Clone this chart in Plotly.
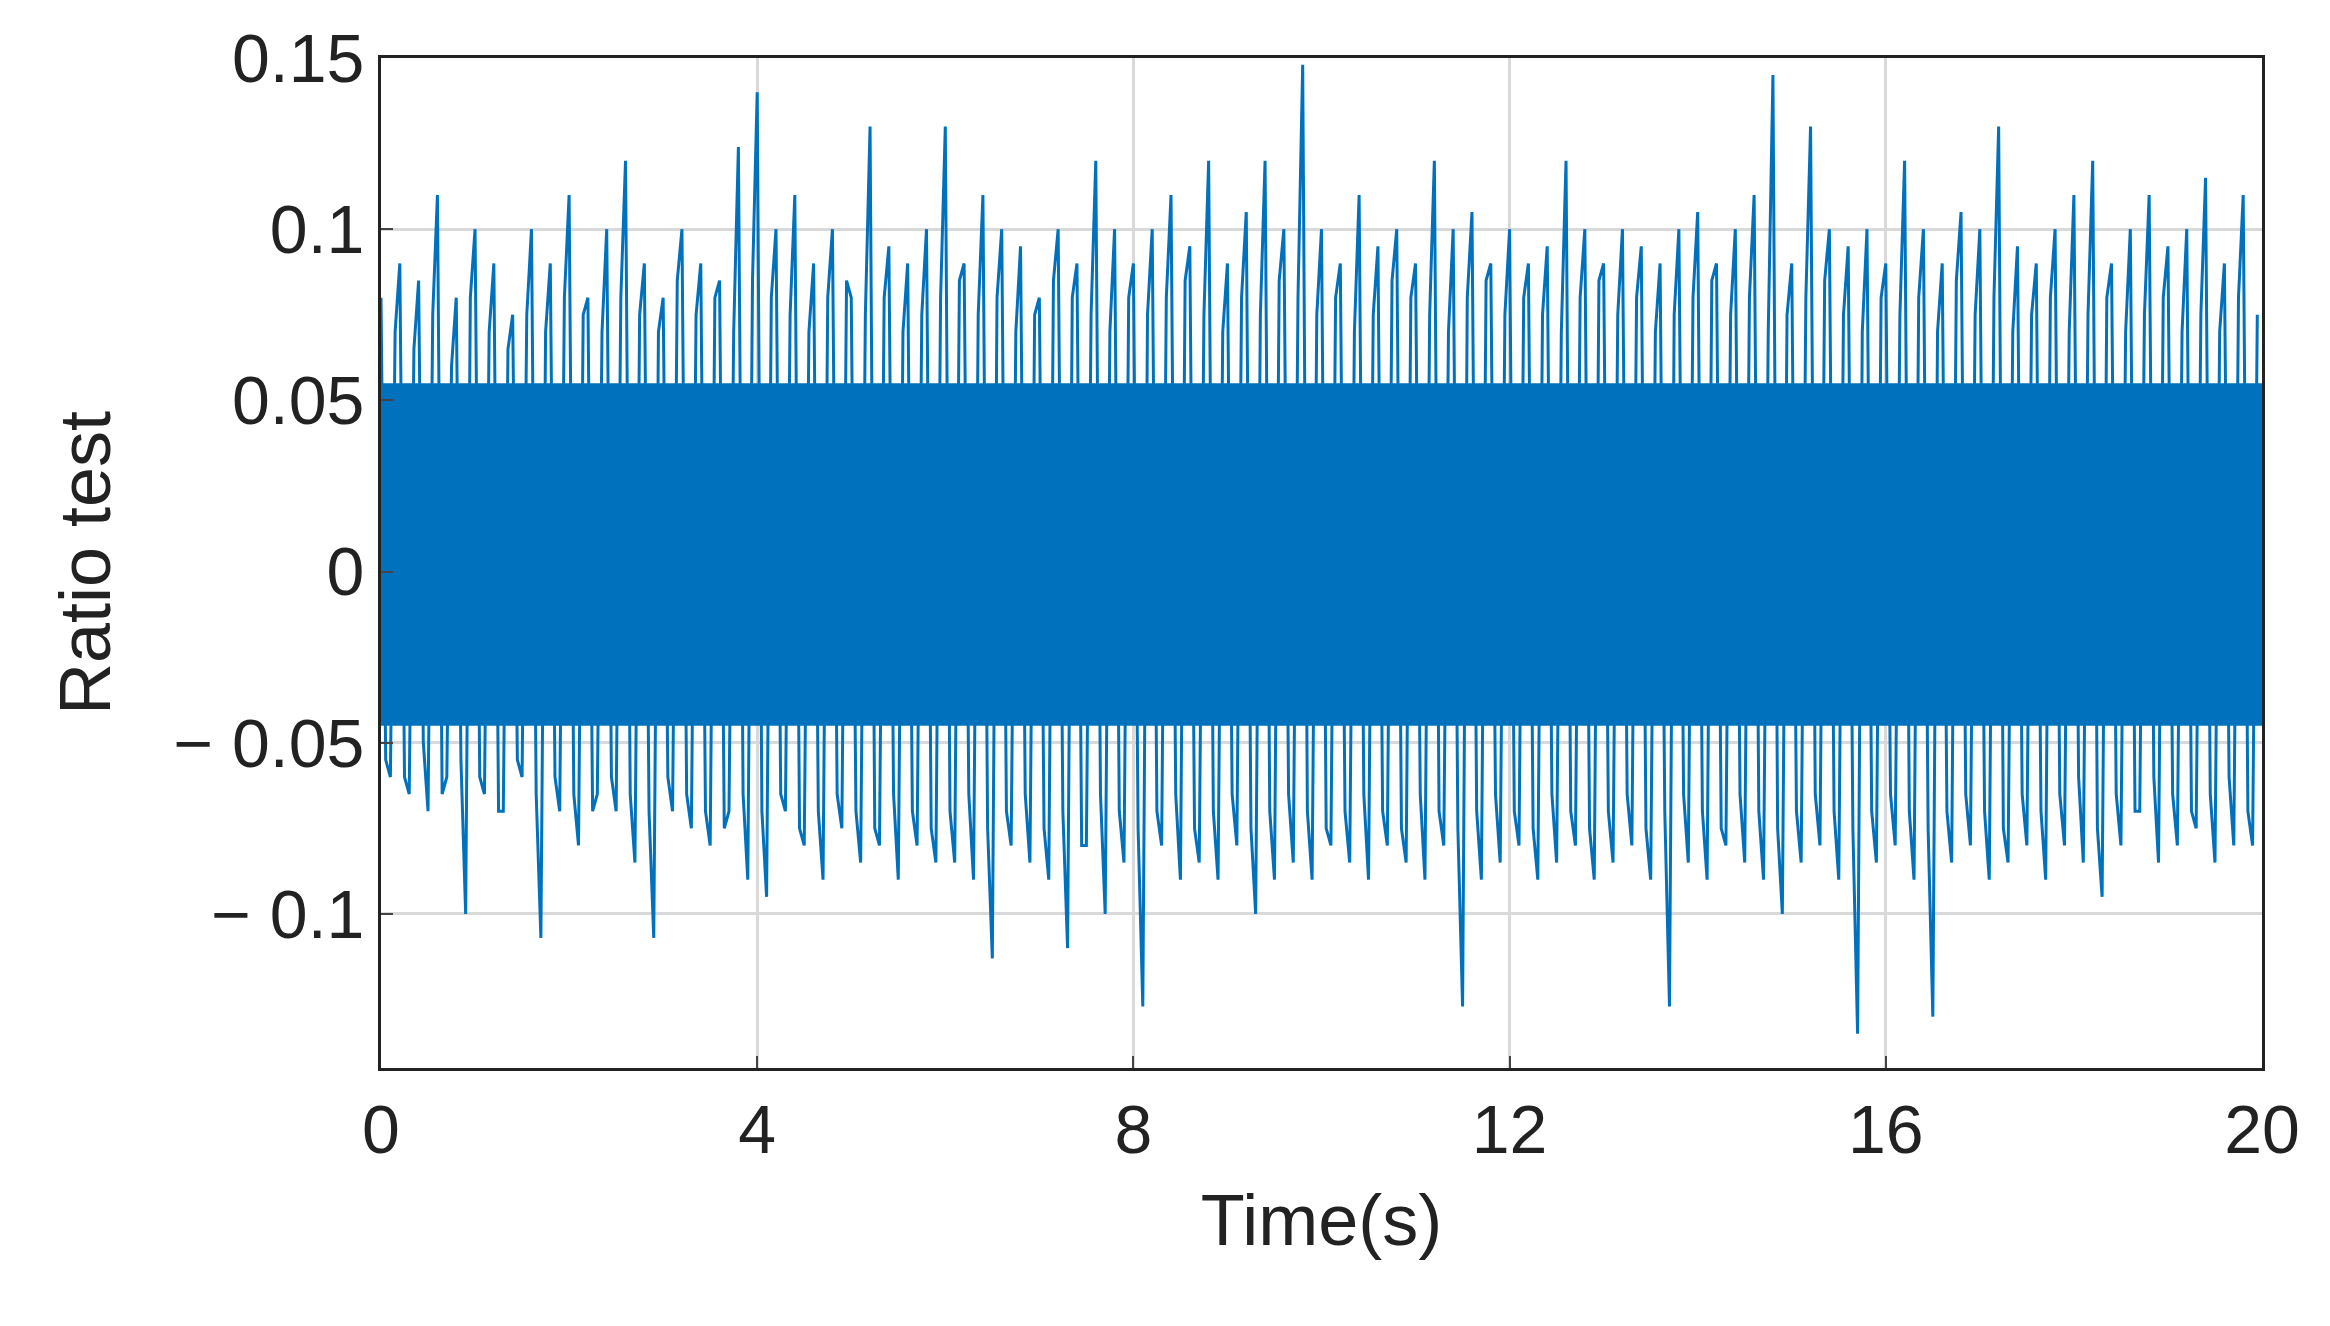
import plotly.graph_objects as go

# upper peaks at t = 0.0, 0.2, ... 19.8 ; lower troughs at t = 0.1, 0.3, ... 19.9
upper = [0.08,0.09,0.085,0.11,0.08,0.10,0.09,0.075,0.10,0.09,
         0.11,0.08,0.10,0.12,0.09,0.08,0.10,0.09,0.085,0.124,
         0.14,0.10,0.11,0.09,0.10,0.08,0.13,0.095,0.09,0.10,
         0.13,0.09,0.11,0.10,0.095,0.08,0.10,0.09,0.12,0.10,
         0.09,0.10,0.11,0.095,0.12,0.09,0.105,0.12,0.10,0.148,
         0.10,0.09,0.11,0.095,0.10,0.09,0.12,0.10,0.105,0.09,
         0.10,0.09,0.095,0.12,0.10,0.09,0.10,0.095,0.09,0.10,
         0.105,0.09,0.10,0.11,0.145,0.09,0.13,0.10,0.095,0.10,
         0.09,0.12,0.10,0.09,0.105,0.10,0.13,0.095,0.09,0.10,
         0.11,0.12,0.09,0.10,0.11,0.095,0.10,0.115,0.09,0.11]
lower = [-0.06,-0.065,-0.07,-0.06,-0.10,-0.065,-0.07,-0.06,-0.107,-0.07,
         -0.08,-0.065,-0.07,-0.085,-0.107,-0.07,-0.075,-0.08,-0.07,-0.09,
         -0.095,-0.07,-0.08,-0.09,-0.075,-0.085,-0.08,-0.09,-0.08,-0.085,
         -0.085,-0.09,-0.113,-0.08,-0.085,-0.09,-0.11,-0.08,-0.10,-0.085,
         -0.127,-0.08,-0.09,-0.085,-0.09,-0.08,-0.10,-0.09,-0.085,-0.09,
         -0.08,-0.085,-0.09,-0.08,-0.085,-0.09,-0.08,-0.127,-0.09,-0.085,
         -0.08,-0.09,-0.085,-0.08,-0.09,-0.085,-0.08,-0.09,-0.127,-0.085,
         -0.09,-0.08,-0.085,-0.09,-0.10,-0.085,-0.08,-0.09,-0.135,-0.085,
         -0.08,-0.09,-0.13,-0.085,-0.08,-0.09,-0.085,-0.08,-0.09,-0.08,
         -0.085,-0.095,-0.08,-0.07,-0.085,-0.08,-0.075,-0.085,-0.08,-0.08]
# secondary mid-level oscillation at t = 0.05, 0.15, ... (roughens the dense band edge)
mid_hi = [0.07,0.065,0.075,0.06,0.08,0.07,0.065,0.075,0.07,0.08,
          0.075,0.07,0.08,0.075,0.07,0.085,0.075,0.08,0.07,0.085,
          0.08,0.075,0.07,0.08,0.085,0.075,0.08,0.07,0.075,0.08,
          0.085,0.075,0.08,0.07,0.075,0.085,0.08,0.075,0.07,0.08,
          0.075,0.08,0.085,0.075,0.07,0.08,0.075,0.085,0.08,0.075,
          0.08,0.07,0.075,0.085,0.08,0.075,0.07,0.08,0.085,0.075,
          0.08,0.075,0.07,0.08,0.085,0.075,0.08,0.07,0.075,0.08,
          0.085,0.075,0.08,0.07,0.075,0.08,0.085,0.075,0.07,0.08,
          0.075,0.08,0.07,0.085,0.075,0.08,0.07,0.075,0.08,0.07,
          0.075,0.08,0.07,0.075,0.08,0.07,0.075,0.07,0.08,0.075]
mid_lo = [-0.055,-0.06,-0.05,-0.065,-0.055,-0.06,-0.07,-0.055,-0.065,-0.06,
          -0.065,-0.07,-0.06,-0.065,-0.07,-0.06,-0.065,-0.07,-0.075,-0.065,
          -0.07,-0.065,-0.075,-0.07,-0.065,-0.07,-0.075,-0.065,-0.07,-0.075,
          -0.07,-0.065,-0.075,-0.07,-0.065,-0.075,-0.07,-0.08,-0.065,-0.07,
          -0.075,-0.07,-0.065,-0.075,-0.07,-0.065,-0.075,-0.07,-0.065,-0.07,
          -0.075,-0.07,-0.065,-0.07,-0.075,-0.065,-0.07,-0.075,-0.07,-0.065,
          -0.07,-0.075,-0.065,-0.07,-0.075,-0.07,-0.065,-0.075,-0.07,-0.065,
          -0.07,-0.075,-0.065,-0.07,-0.075,-0.07,-0.065,-0.07,-0.075,-0.07,
          -0.065,-0.07,-0.075,-0.07,-0.065,-0.07,-0.075,-0.065,-0.07,-0.065,
          -0.06,-0.075,-0.065,-0.07,-0.06,-0.065,-0.07,-0.065,-0.06,-0.07]
core_t = [0, 20]
core_hi = [0.055, 0.055]
core_lo = [-0.045, -0.045]

t, v = [], []
for i in range(len(upper)):
    t += [round(i * 0.2, 2), round(i * 0.2 + 0.05, 2), round(i * 0.2 + 0.1, 2), round(i * 0.2 + 0.15, 2)]
    v += [upper[i], mid_lo[i], lower[i], mid_hi[i]]

blue = "#0072BD"
fig = go.Figure()
fig.add_trace(go.Scatter(x=core_t + core_t[::-1], y=core_hi + core_lo[::-1], fill="toself",
                         fillcolor=blue, line=dict(width=0), mode="lines", hoverinfo="skip"))
fig.add_trace(go.Scatter(x=t, y=v, mode="lines", line=dict(color=blue, width=3)))

ax = dict(showline=True, linecolor="#222", linewidth=3, mirror=True, ticks="inside",
          ticklen=12, tickwidth=2, gridcolor="#d9d9d9", gridwidth=3, zeroline=False,
          tickfont=dict(size=68, color="#222"))
fig.update_layout(
    width=2330, height=1326, paper_bgcolor="white", plot_bgcolor="white", showlegend=False,
    font=dict(family="Liberation Sans, Arial", color="#222"),
    margin=dict(l=373, r=76, t=40, b=266),
    xaxis=dict(ax, range=[0, 20], tickvals=[0, 4, 8, 12, 16, 20],
               title=dict(text="Time(s)", font=dict(size=72), standoff=30)),
    yaxis=dict(ax, range=[-0.145, 0.15], tickvals=[-0.1, -0.05, 0, 0.05, 0.1, 0.15],
               ticktext=["− 0.1", "− 0.05", "0", "0.05", "0.1", "0.15"],
               title=dict(text="Ratio test", font=dict(size=72), standoff=40)),
)
fig.write_html("out.html")
